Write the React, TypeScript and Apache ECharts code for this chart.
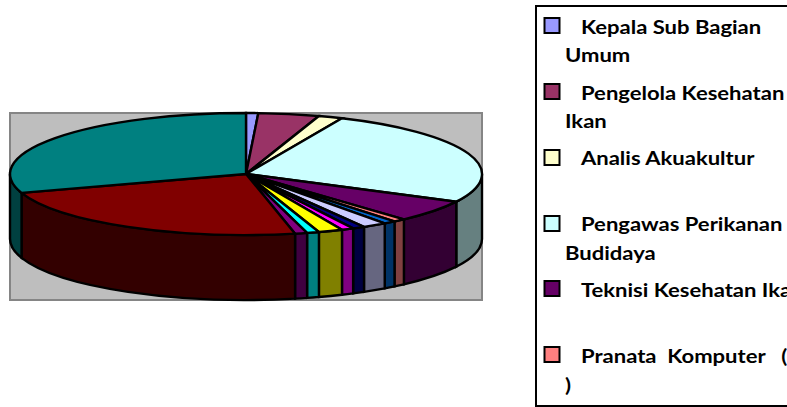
import React, { useEffect, useRef } from "react";
import * as echarts from "echarts";

const slices = [
  "Kepala Sub Bagian Umum",
  "Pengelola Kesehatan Ikan",
  "Analis Akuakultur",
  "Pengawas Perikanan Budidaya",
  "Teknisi Kesehatan Ikan",
  "Pranata Komputer ( )",
  "Slice 7",
  "Slice 8",
  "Slice 9",
  "Slice 10",
  "Slice 11",
  "Slice 12",
  "Slice 13",
  "Slice 14",
  "Slice 15",
];
const values = [1, 5, 2, 31, 7, 1, 1, 2, 1, 1, 2, 1, 1, 28, 36];
const topColors = [
  "#9999FF", "#993366", "#FFFFCC", "#CCFFFF", "#660066", "#FF8080", "#0066CC", "#CCCCFF",
  "#000080", "#FF00FF", "#FFFF00", "#00FFFF", "#800080", "#800000", "#008080",
];
const sideColors = [
  "#4C4C80", "#4C1933", "#808066", "#668080", "#330033", "#804040", "#003366", "#666680",
  "#000040", "#800080", "#808000", "#008080", "#400040", "#330000", "#004040",
];
const legendLines: [number, string][][] = [
  [[581, "Kepala Sub Bagian"], [565, "Umum"]],
  [[581, "Pengelola Kesehatan"], [565, "Ikan"]],
  [[581, "Analis Akuakultur"]],
  [[581, "Pengawas Perikanan"], [565, "Budidaya"]],
  [[581, "Teknisi Kesehatan Ikan"]],
  [[581, "Pranata  Komputer   ("], [565, ")"]],
];
const legendMarkerY = [18, 84, 150, 216, 281, 347];
const legendTextY = [27, 55, 93, 121, 158, 224, 253, 290, 356, 385];

const CX = 246;
const CY = 174;
const RX = 236;
const RY = 61;
const DEPTH = 65;

const total = values.reduce((a, b) => a + b, 0);
const pt = (deg: number, dy = 0): [number, number] => {
  const r = (deg * Math.PI) / 180;
  return [CX + RX * Math.sin(r), CY - RY * Math.cos(r) + dy];
};
const f = (p: [number, number]) => `${p[0].toFixed(2)} ${p[1].toFixed(2)}`;
const angleOf = (i: number) => {
  let s = 0;
  for (let k = 0; k < i; k++) s += values[k];
  return (s / total) * 360;
};
const stroke = { stroke: "#000", lineWidth: 2.4, lineJoin: "miter" as const };

function topItem(params: any) {
  const i = params.dataIndex;
  const a0 = angleOf(i);
  const a1 = angleOf(i + 1);
  const large = a1 - a0 > 180 ? 1 : 0;
  const d = `M${CX} ${CY} L${f(pt(a0))} A${RX} ${RY} 0 ${large} 1 ${f(pt(a1))} Z`;
  return { type: "path", shape: { pathData: d }, style: { fill: topColors[i], ...stroke } };
}

function sideItem(params: any) {
  const i = params.dataIndex;
  const a0 = Math.max(angleOf(i), 90);
  const a1 = Math.min(angleOf(i + 1), 270);
  if (a1 <= a0) return { type: "group", children: [] };
  const d =
    `M${f(pt(a0))} A${RX} ${RY} 0 0 1 ${f(pt(a1))} L${f(pt(a1, DEPTH))} ` +
    `A${RX} ${RY} 0 0 0 ${f(pt(a0, DEPTH))} Z`;
  return { type: "path", shape: { pathData: d }, style: { fill: sideColors[i], ...stroke } };
}

function buildGraphic() {
  const els: any[] = [
    {
      type: "rect", shape: { x: 10, y: 113, width: 472, height: 187 },
      style: { fill: "#BEBEBE", stroke: "#858585", lineWidth: 2 }, z: 0,
    },
    {
      type: "rect", shape: { x: 536, y: 6, width: 300, height: 400 },
      style: { fill: "#fff", stroke: "#000", lineWidth: 2 }, z: 0,
    },
  ];
  legendMarkerY.forEach((y, i) => {
    els.push({
      type: "rect", shape: { x: 544.5, y, width: 15, height: 15 },
      style: { fill: topColors[i], stroke: "#000", lineWidth: 2 }, z: 1,
    });
  });
  let n = 0;
  legendLines.flat().forEach(([x, text]) => {
    els.push({
      type: "text", x, y: legendTextY[n++], scaleX: 1.16,
      style: {
        text, fill: "#000", font: "bold 19px Lato, sans-serif",
        textAlign: "left", textVerticalAlign: "middle",
      }, z: 1,
    });
  });
  return els;
}

export default function App() {
  const ref = useRef<HTMLDivElement>(null);
  useEffect(() => {
    document.body.style.margin = "0";
    const chart = echarts.init(ref.current!, undefined, { renderer: "svg" });
    const data = slices.map((name, i) => ({ name, value: values[i] }));
    chart.setOption({
      animation: false,
      backgroundColor: "#fff",
      graphic: { elements: buildGraphic() },
      series: [
        { type: "custom", coordinateSystem: "none", renderItem: (p: any) => sideItem(p), data, silent: true, z: 3 },
        { type: "custom", coordinateSystem: "none", renderItem: (p: any) => topItem(p), data, silent: true, z: 4 },
      ],
    });
    return () => chart.dispose();
  }, []);
  return <div ref={ref} style={{ width: 787, height: 407 }} />;
}
